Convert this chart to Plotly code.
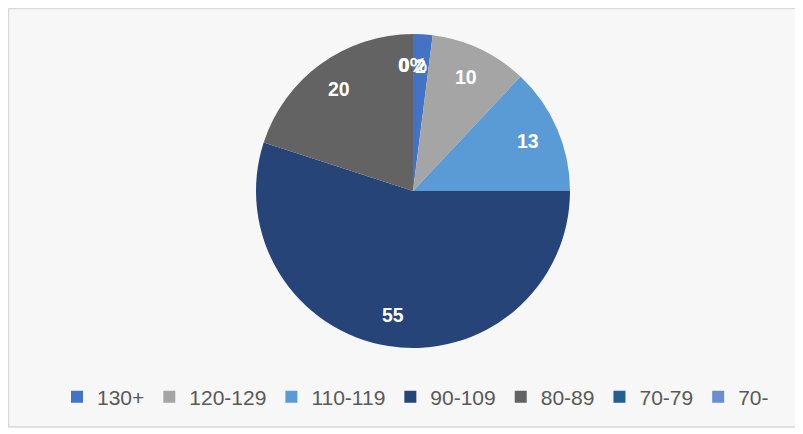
import math
import plotly.graph_objects as go

categories = ["130+", "120-129", "110-119", "90-109", "80-89", "70-79", "70-"]
values = [2, 10, 13, 55, 20, 0, 0]
data_labels = ["2", "10", "13", "55", "20", "0", "0%"]
colors = ["#4472C4", "#A5A5A5", "#5B9BD5", "#264478", "#636363", "#255E91", "#698ED0"]

W, H = 803, 434
OFF = 8  # page body margin
cx, cy, r = 413 - OFF, 191 - OFF, 157
FONT = "Arial, Liberation Sans, sans-serif"

fig = go.Figure(go.Pie(
    labels=categories, values=values, sort=False, direction="clockwise", rotation=0,
    marker=dict(colors=colors, line=dict(width=0)),
    textinfo="none",
    domain=dict(x=[(cx - r) / W, (cx + r) / W], y=[1 - (cy + r) / H, 1 - (cy - r) / H]),
    showlegend=True, hoverinfo="label+value",
))

# data labels placed at the middle angle of each slice
total = sum(values)
cum = 0
zeros_seen = 0
n_zeros = values.count(0)
for v, t in zip(values, data_labels):
    mid = (cum + v / 2) / total * 2 * math.pi
    cum += v
    rr = 0.8 * r
    x = cx + rr * math.sin(mid)
    y = cy - rr * math.cos(mid)
    xshift = 0
    if v == 0:
        zeros_seen += 1
        xshift = -9 * (n_zeros - zeros_seen)
    fig.add_annotation(x=x / W, y=1 - y / H, xref="paper", yref="paper",
                       xanchor="center", yanchor="middle",
                       text="<b>%s</b>" % t, showarrow=False, xshift=xshift,
                       font=dict(family=FONT, size=19.5, color="white"))

fig.update_layout(
    width=W, height=H,
    margin=dict(l=0, r=0, t=0, b=0),
    paper_bgcolor="white",
    shapes=[dict(type="rect", xref="paper", yref="paper", x0=0.5 / W, x1=789 / W, y0=1 - 419 / H, y1=1 - 0.5 / H,
                 line=dict(color="#D9D9D9", width=1.5), fillcolor="#F7F7F7", layer="below")],
    legend=dict(orientation="h", x=(75 - OFF - 18) / W, xanchor="left", y=1 - (397 - OFF) / H, yanchor="middle",
                font=dict(family=FONT, size=21, color="#595959"),
                itemwidth=30, traceorder="normal", bgcolor="rgba(0,0,0,0)"),
)

fig.write_html("out.html")
